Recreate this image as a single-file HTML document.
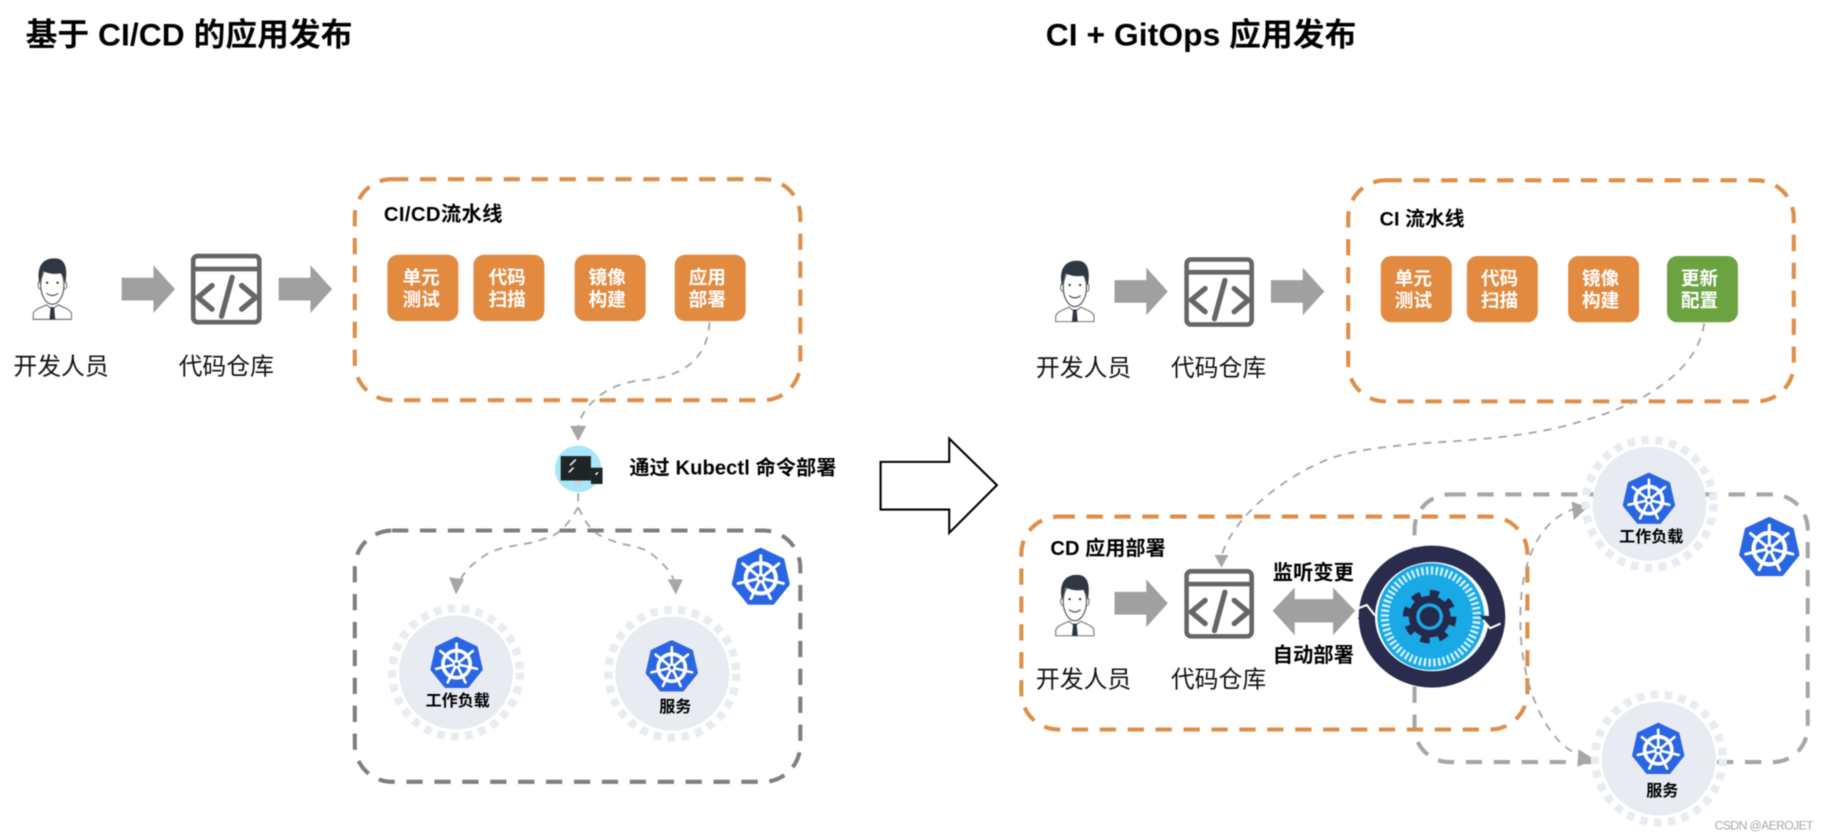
<!DOCTYPE html>
<html><head><meta charset="utf-8">
<style>
html,body{margin:0;padding:0;background:#fff;width:1824px;height:840px;overflow:hidden}
svg{display:block;filter:blur(.5px)}
text{font-family:"Liberation Sans","Noto Sans CJK SC",sans-serif;fill:#000}
.b{font-weight:700}
.w{font-weight:700;fill:#fff;font-size:16px;text-anchor:middle}
.n{font-size:20.5px;text-anchor:middle;fill:#111}
.c{fill:none;stroke:#A6A6A6;stroke-width:1.6;stroke-dasharray:7 6}
.o{fill:none;stroke:#DF8E48;stroke-width:3.5;stroke-dasharray:14 10}
.a{fill:#A6A6A6}
.r{fill:#E28A3F}
.ring{fill:none;stroke:#E8EBF2;stroke-width:7;stroke-dasharray:6.5 5.5}
.disc{fill:#E8EBF2}
</style></head><body>
<svg width="1824" height="840" viewBox="0 0 1568 722" preserveAspectRatio="none" xmlns="http://www.w3.org/2000/svg">
<defs>
<symbol id="k" viewBox="0 0 100 100">
<polygon points="50,3 88,21 97.5,63 71,96 29,96 2.5,63 12,21" fill="#2A66E3" stroke="#2A66E3" stroke-width="5" stroke-linejoin="round"/>
<g stroke="#fff" stroke-width="5" stroke-linecap="round" fill="none">
<circle cx="50" cy="53" r="26" stroke-width="7"/>
<path d="M50 53V14M50 53L81 28M50 53L89 62M50 53L67 88M50 53L33 88M50 53L11 62M50 53L19 28"/>
</g>
<circle cx="50" cy="53" r="8" fill="#fff"/><circle cx="50" cy="53" r="3.5" fill="#2A66E3"/>
</symbol>
<symbol id="p" viewBox="0 0 34 53">
<path d="M.5 52.500V48C1 44 8 42 12 40L17 44L22 40C26 42 33 44 33.500 48V52.500Z" fill="#fff" stroke="#777" stroke-width="1"/>
<path d="M15.500 42L18.500 42L19.500 52.500H14.500Z" fill="#2D3540"/>
<ellipse cx="6.500" cy="23" rx="1.800" ry="3.500" fill="#fff" stroke="#666" stroke-width=".8"/>
<ellipse cx="27.500" cy="23" rx="1.800" ry="3.500" fill="#fff" stroke="#666" stroke-width=".8"/>
<ellipse cx="17" cy="23" rx="10" ry="16.500" fill="#fff" stroke="#555" stroke-width="1"/>
<path d="M6 22C3 8 8 0 19 0C27 0 31 7 28 22C27 17 26 14 24 13C18 14 13 13 9 11C8 14 7 18 6 22Z" fill="#2F3744"/>
<path d="M12 30Q17 34 22 30" fill="none" stroke="#555" stroke-width="1"/>
<circle cx="12.500" cy="21" r="1" fill="#333"/><circle cx="21.500" cy="21" r="1" fill="#333"/>
</symbol>
<symbol id="code" viewBox="0 0 60 60">
<rect x="2" y="2" width="56" height="56" rx="4" fill="#fff" stroke="#666" stroke-width="4"/>
<path d="M2 13H58" stroke="#666" stroke-width="4"/>
<path d="M18 27L6 37L18 47M43 27L55 37L43 47M35 20L26 53" fill="none" stroke="#666" stroke-width="4.500" stroke-linecap="round" stroke-linejoin="round"/>
</symbol>
<symbol id="ar" viewBox="0 0 47 42">
<polygon points="0,11 28,11 28,0 47,21 28,42 28,31 0,31" fill="#A0A0A0"/>
</symbol>
</defs>

<text class="b" x="22" y="39" font-size="27.300" textLength="281">基于 CI/CD 的应用发布</text>
<text class="b" x="899" y="39" font-size="27.300" textLength="267">CI + GitOps 应用发布</text>

<!-- left flow -->
<use href="#p" x="28" y="222" width="34" height="53"/>
<use href="#ar" x="104" y="228" width="47" height="41"/>
<use href="#code" x="164" y="218" width="61" height="61"/>
<use href="#ar" x="239" y="228" width="47" height="41"/>
<text class="n" x="52.500" y="322">开发人员</text>
<text class="n" x="194.500" y="322">代码仓库</text>

<rect class="o" x="305" y="154" width="383" height="190" rx="32"/>
<text class="b" x="330" y="190" font-size="17.500" textLength="102">CI/CD流水线</text>
<rect class="r" x="333" y="219" width="61" height="57" rx="9"/>
<rect class="r" x="407" y="219" width="61" height="57" rx="9"/>
<rect class="r" x="494" y="219" width="61" height="57" rx="9"/>
<rect class="r" x="580" y="219" width="61" height="57" rx="9"/>
<text class="w" x="362" y="244">单元</text><text class="w" x="362" y="263">测试</text>
<text class="w" x="436" y="244">代码</text><text class="w" x="436" y="263">扫描</text>
<text class="w" x="522" y="244">镜像</text><text class="w" x="522" y="263">构建</text>
<text class="w" x="608" y="244">应用</text><text class="w" x="608" y="263">部署</text>

<path class="c" d="M610 277C608 310 585 325 550 327C520 330 500 350 497 367"/>
<polygon class="a" points="490,366 504,366 497,379"/>

<rect x="305" y="456" width="383" height="216" rx="32" fill="none" stroke="#7F7F7F" stroke-width="3.500" stroke-dasharray="14 10"/>
<path class="c" d="M497 424V433"/>
<path class="c" d="M497 436C490 448 482 460 468 463C450 470 430 468 416 478C405 485 399 492 396 498"/>
<path class="c" d="M497 436C503 448 508 458 520 462C535 470 550 468 560 476C570 484 577 492 579 498"/>
<polygon class="a" points="386,496 399,498 392,511"/>
<polygon class="a" points="574,498 587,498 581,511"/>

<circle cx="497" cy="403" r="20" fill="#A8E6FB"/>
<rect x="482" y="392" width="26" height="21" fill="#1F2426"/>
<rect x="494" y="413" width="6" height="4" fill="#C9D2D6"/>
<rect x="508" y="402" width="10" height="14" fill="#1F2426"/>
<path d="M490 400L495 395M489 406L493 402M512 408L514 406" stroke="#fff" stroke-width="1.300"/>
<text class="b" x="541" y="408" font-size="17.300" textLength="178">通过 Kubectl 命令部署</text>

<use href="#k" x="629" y="470" width="50" height="51"/>

<circle class="ring" cx="392" cy="578" r="55"/><circle class="disc" cx="392" cy="578" r="49"/>
<use href="#k" x="370" y="547" width="45" height="45"/>
<text class="b" x="393.500" y="607" font-size="13.800" text-anchor="middle">工作负载</text>
<circle class="ring" cx="578" cy="579" r="55"/><circle class="disc" cx="578" cy="579" r="49"/>
<use href="#k" x="555" y="550" width="45" height="45"/>
<text class="b" x="580.500" y="612" font-size="13.800" text-anchor="middle">服务</text>

<!-- big arrow -->
<polygon points="757,397 816,397 816,377 857,417 816,458 816,438 757,438" fill="#fff" stroke="#000" stroke-width="1.800"/>

<!-- right top -->
<use href="#p" x="907" y="224" width="34" height="53"/>
<use href="#ar" x="958" y="230" width="46" height="41"/>
<use href="#code" x="1018" y="221" width="60" height="60"/>
<use href="#ar" x="1092" y="230" width="47" height="41"/>
<text class="n" x="931.500" y="323">开发人员</text>
<text class="n" x="1047.500" y="323">代码仓库</text>

<rect class="o" x="1159" y="155" width="383" height="190" rx="32"/>
<text class="b" x="1186" y="194" font-size="17" textLength="73">CI 流水线</text>
<rect class="r" x="1187" y="220" width="61" height="57" rx="9"/>
<rect class="r" x="1261" y="220" width="61" height="57" rx="9"/>
<rect class="r" x="1348" y="220" width="61" height="57" rx="9"/>
<rect x="1433" y="220" width="61" height="57" rx="9" fill="#6AA340"/>
<text class="w" x="1215" y="245">单元</text><text class="w" x="1215" y="264">测试</text>
<text class="w" x="1289" y="245">代码</text><text class="w" x="1289" y="264">扫描</text>
<text class="w" x="1376" y="245">镜像</text><text class="w" x="1376" y="264">构建</text>
<text class="w" x="1461" y="245">更新</text><text class="w" x="1461" y="264">配置</text>

<!-- right bottom -->
<rect x="1216" y="425" width="338" height="230" rx="30" fill="none" stroke="#A6A6A6" stroke-width="3.500" stroke-dasharray="14 10"/>
<rect class="o" x="878" y="444" width="435" height="183" rx="32"/>
<text class="b" x="903" y="477" font-size="17.300" textLength="99">CD 应用部署</text>
<use href="#p" x="907" y="494" width="34" height="53"/>
<use href="#ar" x="958" y="498" width="46" height="41"/>
<use href="#code" x="1018" y="489" width="60" height="60"/>
<text class="n" x="931.500" y="591">开发人员</text>
<text class="n" x="1047.500" y="591">代码仓库</text>
<polygon points="1094,525 1113,505 1113,515 1146,515 1146,505 1165,525 1146,546 1146,535 1113,535 1113,546" fill="#A0A0A0"/>
<text class="b" x="1094" y="498" font-size="17.500">监听变更</text>
<text class="b" x="1094" y="569" font-size="17.500">自动部署</text>

<path class="c" d="M1465 278C1460 315 1420 345 1363 361C1320 375 1270 378 1223 381C1180 385 1160 388 1141 395C1100 412 1060 445 1050 478"/>
<polygon class="a" points="1044,477 1056,477 1050,488"/>
<path class="c" d="M1355 437C1325 445 1307 480 1307 530C1306 590 1330 640 1360 650"/>
<polygon class="a" points="1351,431 1365,436 1353,447"/>
<polygon class="a" points="1357,644 1371,653 1356,659"/>

<circle class="ring" cx="1418" cy="433" r="55"/><circle class="disc" cx="1418" cy="433" r="49"/>
<use href="#k" x="1395" y="406" width="45" height="45"/>
<text class="b" x="1419.500" y="466" font-size="13.800" text-anchor="middle">工作负载</text>
<circle class="ring" cx="1426" cy="652" r="55"/><circle class="disc" cx="1426" cy="652" r="49"/>
<use href="#k" x="1403" y="621" width="45" height="45"/>
<text class="b" x="1429" y="684" font-size="13.800" text-anchor="middle">服务</text>
<use href="#k" x="1495" y="444" width="52" height="52"/>

<!-- gitops icon -->
<ellipse cx="1231" cy="530" rx="63" ry="61" fill="#fff"/>
<ellipse cx="1231" cy="530" rx="56" ry="54" fill="none" stroke="#2A2C4E" stroke-width="14"/>
<circle cx="1230" cy="530" r="46" fill="#18A9E6"/>
<circle cx="1230" cy="530" r="39.500" fill="none" stroke="#D5F1FB" stroke-width="7" stroke-dasharray="2 2.130"/>
<circle cx="1229" cy="530" r="20" fill="none" stroke="#252A4B" stroke-width="6" stroke-dasharray="7.800 7.900"/>
<circle cx="1229" cy="530" r="18" fill="#252A4B"/>
<circle cx="1229" cy="530" r="10" fill="#252A4B" stroke="#18A9E6" stroke-width="3"/>
<polygon points="1167,532 1182,532 1173,523" fill="#2A2C4E"/>
<polygon points="1272,529 1294,530 1281,540" fill="#2A2C4E"/>
<polyline points="1167,523 1175,520 1182,529" fill="none" stroke="#fff" stroke-width="1.800"/>
<polyline points="1275,533 1281,540 1290,536" fill="none" stroke="#fff" stroke-width="1.800"/>

<text x="1474" y="713" font-size="10.500" textLength="85" style="fill:#A8A8A8">CSDN @AEROJET</text>
</svg>
</body></html>
